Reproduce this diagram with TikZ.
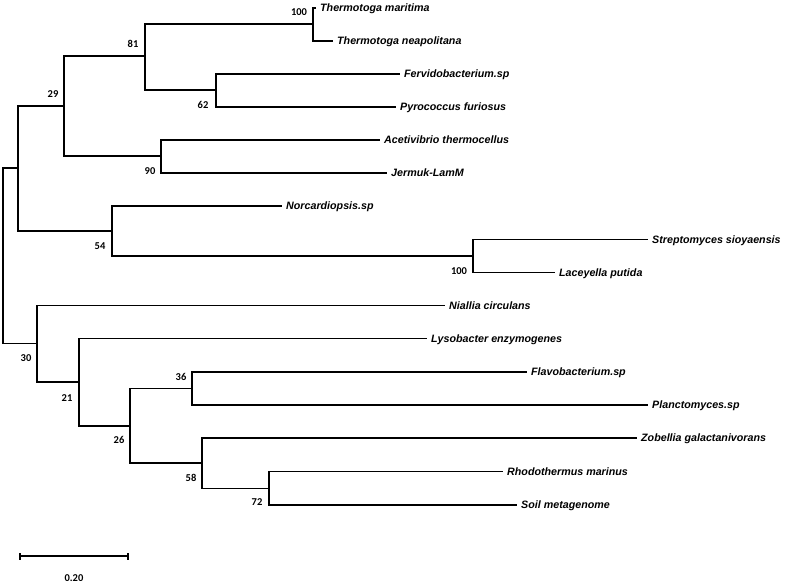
\documentclass[tikz,border=0pt]{standalone}
\usepackage{fontspec}
\setmainfont{Liberation Sans}
\newfontfamily\bootfont{Carlito}
\usepackage{tikz}

\tikzset{
  branch/.style={line width=1.2pt},
  taxon/.style={anchor=west, inner xsep=4pt, inner ysep=0pt, text height=7.7pt, text depth=0pt,
    font=\fontsize{10.7}{12}\selectfont\bfseries\itshape},
  boot/.style={inner sep=0pt, font=\bootfont\fontsize{10.5}{12}\selectfont\bfseries}
}

\begin{document}
\begin{tikzpicture}[x=1pt,y=-1pt]
\useasboundingbox (0,0) rectangle (788,585);
\coordinate (root) at (3,255.5);
\coordinate (nA) at (18,168);
\coordinate (n29) at (64,106);
\coordinate (n81) at (145,56);
\coordinate (n100a) at (313,24);
\coordinate (n62) at (216,90);
\coordinate (n90) at (161,156);
\coordinate (n54) at (112,231);
\coordinate (n100b) at (473,256);
\coordinate (n30) at (37,343.5);
\coordinate (n21) at (79,382);
\coordinate (n26) at (130,426);
\coordinate (n36) at (192,388.5);
\coordinate (n58) at (202,463);
\coordinate (n72) at (269,488.5);

\node[taxon] (tmar) at (316,8) {Thermotoga maritima};
\node[taxon] (tnea) at (333,41) {Thermotoga neapolitana};
\node[taxon] (ferv) at (400,74) {Fervidobacterium.sp};
\node[taxon] (pyro) at (396,107) {Pyrococcus furiosus};
\node[taxon] (acet) at (380,140) {Acetivibrio thermocellus};
\node[taxon] (jerm) at (387,173) {Jermuk-LamM};
\node[taxon] (norc) at (282,206) {Norcardiopsis.sp};
\node[taxon] (strep) at (648,239.5) {Streptomyces sioyaensis};
\node[taxon] (lacey) at (555,272.5) {Laceyella putida};
\node[taxon] (nial) at (445,305.5) {Niallia circulans};
\node[taxon] (lyso) at (427,338.5) {Lysobacter enzymogenes};
\node[taxon] (flavo) at (527,372) {Flavobacterium.sp};
\node[taxon] (planc) at (648,405) {Planctomyces.sp};
\node[taxon] (zob) at (637,438) {Zobellia galactanivorans};
\node[taxon] (rhodo) at (503,471.5) {Rhodothermus marinus};
\node[taxon] (soil) at (517,505) {Soil metagenome};

\draw[branch] (root) |- (nA);
\draw[branch] (root) |- (n30);
\draw[branch] (nA) |- (n29);
\draw[branch] (nA) |- (n54);
\draw[branch] (n29) |- (n81);
\draw[branch] (n29) |- (n90);
\draw[branch] (n81) |- (n100a);
\draw[branch] (n81) |- (n62);
\draw[branch] (n100a) |- (tmar.west);
\draw[branch] (n100a) |- (tnea.west);
\draw[branch] (n62) |- (ferv.west);
\draw[branch] (n62) |- (pyro.west);
\draw[branch] (n90) |- (acet.west);
\draw[branch] (n90) |- (jerm.west);
\draw[branch] (n54) |- (norc.west);
\draw[branch] (n54) |- (n100b);
\draw[branch] (n100b) |- (strep.west);
\draw[branch] (n100b) |- (lacey.west);
\draw[branch] (n30) |- (nial.west);
\draw[branch] (n30) |- (n21);
\draw[branch] (n21) |- (lyso.west);
\draw[branch] (n21) |- (n26);
\draw[branch] (n26) |- (n36);
\draw[branch] (n26) |- (n58);
\draw[branch] (n36) |- (flavo.west);
\draw[branch] (n36) |- (planc.west);
\draw[branch] (n58) |- (zob.west);
\draw[branch] (n58) |- (n72);
\draw[branch] (n72) |- (rhodo.west);
\draw[branch] (n72) |- (soil.west);

\node[boot] (b100a) at (299,12) {100};
\node[boot] (b81) at (133,44) {81};
\node[boot] (b29) at (53,94) {29};
\node[boot] (b62) at (203,105) {62};
\node[boot] (b90) at (150,171) {90};
\node[boot] (b54) at (100,246) {54};
\node[boot] (b100b) at (459,271) {100};
\node[boot] (b30) at (26,358) {30};
\node[boot] (b21) at (67,398) {21};
\node[boot] (b36) at (181,377) {36};
\node[boot] (b26) at (119,440) {26};
\node[boot] (b58) at (191,478) {58};
\node[boot] (b72) at (257,502) {72};

\coordinate (sbl) at (20,556);
\coordinate (sbr) at (128,556);
\draw[branch] (sbl) -- (sbr);
\draw[branch] ([yshift=-3.5pt]sbl) -- ([yshift=3.5pt]sbl);
\draw[branch] ([yshift=-3.5pt]sbr) -- ([yshift=3.5pt]sbr);
\node[boot] (sblab) at (74,578) {0.20};
\end{tikzpicture}
\end{document}
